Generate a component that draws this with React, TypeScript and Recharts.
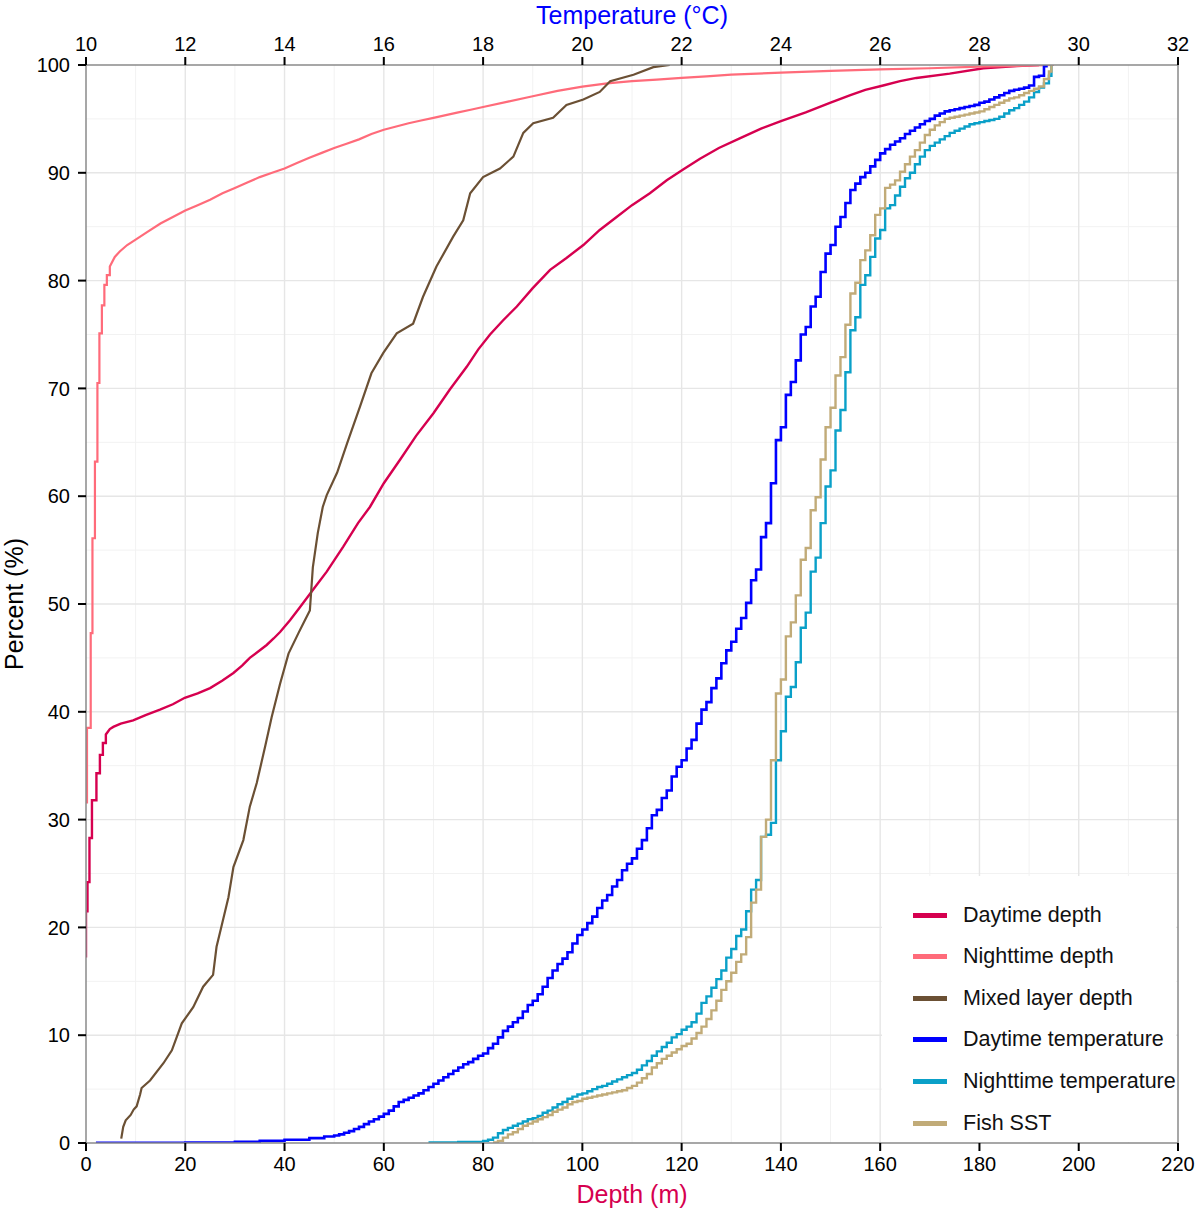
import React from "react";
import {
  LineChart,
  Line,
  XAxis,
  YAxis,
  CartesianGrid,
  ReferenceLine,
} from "recharts";

// axis ticks
const DEPTH_TICKS = [0, 20, 40, 60, 80, 100, 120, 140, 160, 180, 200, 220];
const TEMP_TICKS = [10, 12, 14, 16, 18, 20, 22, 24, 26, 28, 30, 32];
const PCT_TICKS = [0, 10, 20, 30, 40, 50, 60, 70, 80, 90, 100];
const DEPTH_MINOR = [10, 30, 50, 70, 90, 110, 130, 150, 170, 190, 210];
const DEPTH_MAJOR = [20, 40, 60, 80, 100, 120, 140, 160, 180, 200];
const PCT_MINOR = [5, 15, 25, 35, 45, 55, 65, 75, 85, 95];
const PCT_MAJOR = [10, 20, 30, 40, 50, 60, 70, 80, 90];

// cumulative percent, [depth m, %]
const dayDepth = [
  [0, 17.2], [0, 21.5], [0.3, 21.5], [0.3, 24.2], [0.7, 24.2], [0.7, 28.3],
  [1.2, 28.3], [1.2, 31.8], [2.1, 31.8], [2.1, 34.3], [2.8, 34.3], [2.8, 36.0],
  [3.4, 36.0], [3.4, 37.1], [4.0, 37.1], [4.0, 37.9], [4.8, 38.4], [5.5, 38.6],
  [7, 38.9], [9.5, 39.2], [12, 39.7], [14.9, 40.2], [17.5, 40.7], [19.9, 41.3],
  [22.5, 41.7], [25, 42.2], [27.5, 42.9], [29.7, 43.6], [31.5, 44.3], [33, 45.0],
  [34.7, 45.6], [36.4, 46.2], [37.8, 46.8], [39.1, 47.4], [41.1, 48.5], [43.1, 49.7],
  [45.7, 51.3], [48.5, 53.0], [51.8, 55.3], [54.8, 57.5], [57.2, 59.0], [60, 61.2],
  [63.3, 63.4], [66.5, 65.6], [70, 67.7], [73.3, 69.9], [76.7, 72.0], [79, 73.6],
  [81.4, 75.0], [84, 76.3], [86.8, 77.6], [90, 79.3], [93.5, 81.0], [96.8, 82.1],
  [100.2, 83.3], [103.5, 84.7], [106.9, 85.9], [110, 87.0], [113.6, 88.1],
  [117, 89.3], [120.3, 90.3], [123.7, 91.3], [127.5, 92.3], [131.7, 93.2],
  [136, 94.1], [140, 94.8], [145, 95.6], [150, 96.5], [154, 97.2], [157, 97.7],
  [160.6, 98.1], [164, 98.5], [167.3, 98.8], [174, 99.2], [180.8, 99.7],
  [187.5, 99.9], [192, 100],
];

const nightDepth = [
  [0.2, 31.5], [0.2, 38.5], [0.95, 38.5], [0.95, 47.3], [1.3, 47.3], [1.3, 56.1],
  [1.8, 56.1], [1.8, 63.2], [2.3, 63.2], [2.3, 70.5], [2.7, 70.5], [2.7, 75.1],
  [3.2, 75.1], [3.2, 77.7], [3.7, 77.7], [3.7, 79.6], [4.2, 79.6], [4.2, 80.5],
  [4.8, 80.5], [4.8, 81.3], [5.8, 82.2], [6.8, 82.7], [8.3, 83.3], [10, 83.8],
  [12.3, 84.5], [15, 85.3], [17.5, 85.9], [20, 86.5], [22.5, 87.0], [25, 87.5],
  [27.5, 88.1], [30, 88.6], [32.5, 89.1], [35, 89.6], [37.5, 90.0], [40, 90.4],
  [42.5, 90.9], [45, 91.4], [47.5, 91.85], [50, 92.3], [52.5, 92.7], [55, 93.1],
  [57.5, 93.6], [60, 94.0], [62.5, 94.3], [65, 94.6], [67.5, 94.85], [70, 95.1],
  [72.5, 95.35], [75, 95.6], [77.5, 95.85], [80, 96.1], [85, 96.6], [90, 97.1],
  [95, 97.6], [100, 98.0], [105, 98.3], [110, 98.5], [115, 98.65], [120, 98.8],
  [125, 98.95], [130, 99.1], [140, 99.3], [150, 99.45], [160, 99.6], [170, 99.7],
  [180, 99.85], [195, 100],
];

const mixedLayer = [
  [7.1, 0.4], [7.5, 1.5], [8, 2.1], [9, 2.6], [9.6, 3.1], [10.2, 3.4],
  [10.9, 4.5], [11.2, 5.1], [12.9, 5.8], [15.6, 7.4], [17.3, 8.6], [19.3, 11.1],
  [21.6, 12.6], [23.6, 14.5], [25.6, 15.6], [26.3, 18.2], [27.3, 20.1], [28.7, 22.8],
  [29.7, 25.6], [31.7, 28.1], [33, 31.2], [34.4, 33.4], [36.1, 36.8], [37.4, 39.5],
  [39.1, 42.6], [40.8, 45.4], [42.8, 47.3], [44.1, 48.5], [45.1, 49.4], [45.7, 53.4],
  [46.7, 56.6], [47.7, 59.0], [48.5, 60.1], [50.6, 62.2], [52.6, 64.9], [55.2, 68.3],
  [57.5, 71.4], [59.9, 73.3], [62.6, 75.1], [65.9, 76.0], [67.9, 78.5], [70.6, 81.3],
  [74.0, 84.1], [76.0, 85.6], [77.4, 88.1], [80.0, 89.6], [83.4, 90.4], [86.1, 91.5],
  [88.1, 93.7], [90.1, 94.6], [94.1, 95.1], [96.8, 96.3], [100.2, 96.8], [103.5, 97.5],
  [105.6, 98.5], [110.3, 99.1], [114.3, 99.8], [117.6, 100],
];

// cumulative percent, [temperature °C, %]
const dayTemp = [
  [10.2, 0.02], [11, 0.03], [12, 0.05], [13, 0.12], [13.5, 0.2], [14, 0.3],
  [14.5, 0.45], [14.8, 0.6], [15, 0.7], [15.1, 0.8], [15.2, 0.95], [15.3, 1.1],
  [15.4, 1.3], [15.5, 1.5], [15.6, 1.75], [15.7, 2.0], [15.8, 2.2], [15.9, 2.45],
  [16.0, 2.7], [16.1, 3.0], [16.2, 3.4], [16.3, 3.8], [16.4, 4.0], [16.5, 4.2],
  [16.6, 4.4], [16.7, 4.6], [16.8, 4.9], [16.9, 5.2], [17.0, 5.5], [17.1, 5.8],
  [17.2, 6.1], [17.3, 6.4], [17.4, 6.7], [17.5, 7.0], [17.6, 7.3], [17.7, 7.5],
  [17.8, 7.8], [17.9, 8.1], [18.0, 8.3], [18.1, 8.8], [18.2, 9.2], [18.3, 9.8],
  [18.4, 10.4], [18.5, 10.8], [18.6, 11.2], [18.7, 11.6], [18.8, 12.2], [18.9, 12.8],
  [19.0, 13.2], [19.1, 13.8], [19.2, 14.5], [19.3, 15.3], [19.4, 16.0], [19.5, 16.6],
  [19.6, 17.1], [19.7, 17.7], [19.8, 18.5], [19.9, 19.3], [20.0, 19.8], [20.1, 20.4],
  [20.2, 21.0], [20.3, 21.8], [20.4, 22.5], [20.5, 23.0], [20.6, 23.8], [20.7, 24.4],
  [20.8, 25.3], [20.9, 25.9], [21.0, 26.4], [21.1, 27.3], [21.2, 28.1], [21.3, 29.2],
  [21.4, 30.4], [21.5, 30.9], [21.6, 32.0], [21.7, 32.7], [21.8, 34.0], [21.9, 34.9],
  [22.0, 35.5], [22.1, 36.6], [22.2, 37.4], [22.3, 38.9], [22.4, 40.2], [22.5, 40.9],
  [22.6, 42.2], [22.7, 43.1], [22.8, 44.5], [22.9, 45.7], [23.0, 46.5], [23.1, 47.7],
  [23.2, 48.7], [23.3, 50.1], [23.4, 52.2], [23.5, 53.2], [23.6, 56.2], [23.7, 57.5],
  [23.8, 61.2], [23.9, 65.2], [24.0, 66.4], [24.1, 69.4], [24.2, 70.6], [24.3, 72.6],
  [24.4, 75.0], [24.5, 75.7], [24.6, 77.6], [24.7, 78.5], [24.8, 80.8], [24.9, 82.5],
  [25.0, 83.3], [25.1, 85.0], [25.2, 85.9], [25.3, 87.2], [25.4, 88.4], [25.5, 89.0],
  [25.6, 89.6], [25.7, 90.0], [25.8, 90.6], [25.9, 91.2], [26.0, 91.8], [26.1, 92.2],
  [26.2, 92.6], [26.3, 92.9], [26.4, 93.2], [26.5, 93.6], [26.6, 93.9], [26.7, 94.2],
  [26.8, 94.5], [26.9, 94.8], [27.0, 95.0], [27.1, 95.3], [27.2, 95.5], [27.3, 95.7],
  [27.4, 95.8], [27.5, 95.9], [27.6, 96.0], [27.7, 96.1], [27.8, 96.2], [27.9, 96.3],
  [28.0, 96.5], [28.1, 96.6], [28.2, 96.8], [28.3, 97.0], [28.4, 97.2], [28.5, 97.4],
  [28.6, 97.6], [28.7, 97.7], [28.8, 97.8], [28.9, 97.9], [29.0, 98.1], [29.1, 98.9],
  [29.2, 99.0], [29.3, 99.9], [29.35, 100],
];

const nightTemp = [
  [16.9, 0.05], [17.5, 0.1], [18.0, 0.2], [18.1, 0.3], [18.2, 0.5], [18.3, 0.9],
  [18.4, 1.2], [18.5, 1.4], [18.6, 1.6], [18.7, 1.8], [18.8, 2.0], [18.9, 2.2],
  [19.0, 2.3], [19.1, 2.5], [19.2, 2.8], [19.3, 3.0], [19.4, 3.3], [19.5, 3.6],
  [19.6, 3.8], [19.7, 4.1], [19.8, 4.3], [19.9, 4.5], [20.0, 4.6], [20.1, 4.8],
  [20.2, 5.0], [20.3, 5.2], [20.4, 5.3], [20.5, 5.5], [20.6, 5.7], [20.7, 5.9],
  [20.8, 6.1], [20.9, 6.3], [21.0, 6.5], [21.1, 6.8], [21.2, 7.2], [21.3, 7.6],
  [21.4, 8.1], [21.5, 8.5], [21.6, 8.9], [21.7, 9.3], [21.8, 9.8], [21.9, 10.1],
  [22.0, 10.5], [22.1, 10.8], [22.2, 11.2], [22.3, 12.0], [22.4, 13.0], [22.5, 13.6],
  [22.6, 14.4], [22.7, 15.2], [22.8, 16.0], [22.9, 17.2], [23.0, 18.0], [23.1, 19.2],
  [23.2, 19.8], [23.3, 21.5], [23.4, 23.5], [23.5, 24.4], [23.6, 28.4], [23.7, 28.6],
  [23.8, 29.7], [23.9, 35.5], [24.0, 38.2], [24.1, 41.4], [24.2, 42.3], [24.3, 44.6],
  [24.4, 47.8], [24.5, 49.2], [24.6, 53.0], [24.7, 54.3], [24.8, 57.5], [24.9, 60.9],
  [25.0, 62.4], [25.1, 66.1], [25.2, 68.0], [25.3, 71.5], [25.4, 75.4], [25.5, 76.6],
  [25.6, 79.6], [25.7, 80.5], [25.8, 82.2], [25.9, 83.9], [26.0, 84.7], [26.1, 86.7],
  [26.2, 87.0], [26.3, 87.9], [26.4, 88.7], [26.5, 89.5], [26.6, 90.0], [26.7, 90.8],
  [26.8, 91.5], [26.9, 92.1], [27.0, 92.5], [27.1, 92.8], [27.2, 93.1], [27.3, 93.4],
  [27.4, 93.7], [27.5, 93.9], [27.6, 94.1], [27.7, 94.3], [27.8, 94.5], [27.9, 94.6],
  [28.0, 94.7], [28.1, 94.8], [28.2, 94.9], [28.3, 95.0], [28.4, 95.2], [28.5, 95.5],
  [28.6, 95.8], [28.7, 96.0], [28.8, 96.3], [28.9, 96.6], [29.0, 97.0], [29.1, 97.5],
  [29.2, 97.9], [29.3, 98.3], [29.4, 99.0], [29.45, 100],
];

const fishSst = [
  [18.2, 0.05], [18.3, 0.2], [18.4, 0.5], [18.5, 0.8], [18.6, 1.0], [18.7, 1.3],
  [18.8, 1.6], [18.9, 1.8], [19.0, 2.0], [19.1, 2.2], [19.2, 2.4], [19.3, 2.6],
  [19.4, 2.9], [19.5, 3.1], [19.6, 3.3], [19.7, 3.6], [19.8, 3.8], [19.9, 3.9],
  [20.0, 4.1], [20.1, 4.2], [20.2, 4.3], [20.3, 4.4], [20.4, 4.5], [20.5, 4.6],
  [20.6, 4.7], [20.7, 4.8], [20.8, 4.9], [20.9, 5.1], [21.0, 5.3], [21.1, 5.6],
  [21.2, 6.0], [21.3, 6.4], [21.4, 7.0], [21.5, 7.4], [21.6, 7.8], [21.7, 8.1],
  [21.8, 8.4], [21.9, 8.7], [22.0, 9.0], [22.1, 9.2], [22.2, 9.7], [22.3, 10.2],
  [22.4, 10.8], [22.5, 11.5], [22.6, 12.3], [22.7, 13.2], [22.8, 14.2], [22.9, 15.0],
  [23.0, 15.8], [23.1, 16.8], [23.2, 17.5], [23.3, 19.1], [23.4, 22.3], [23.5, 23.5],
  [23.6, 28.4], [23.7, 30.0], [23.8, 35.5], [23.9, 41.7], [24.0, 43.0], [24.1, 47.0],
  [24.2, 48.3], [24.3, 50.8], [24.4, 54.1], [24.5, 55.2], [24.6, 58.7], [24.7, 59.9],
  [24.8, 63.4], [24.9, 66.4], [25.0, 68.2], [25.1, 71.2], [25.2, 72.9], [25.3, 75.9],
  [25.4, 78.8], [25.5, 79.8], [25.6, 81.9], [25.7, 82.8], [25.8, 84.2], [25.9, 86.1],
  [26.0, 86.7], [26.1, 88.6], [26.2, 88.9], [26.3, 89.3], [26.4, 90.1], [26.5, 90.8],
  [26.6, 91.5], [26.7, 92.1], [26.8, 92.8], [26.9, 93.5], [27.0, 94.0], [27.1, 94.4],
  [27.2, 94.7], [27.3, 95.0], [27.4, 95.1], [27.5, 95.2], [27.6, 95.3], [27.7, 95.4],
  [27.8, 95.5], [27.9, 95.6], [28.0, 95.7], [28.1, 95.9], [28.2, 96.1], [28.3, 96.3],
  [28.4, 96.5], [28.5, 96.7], [28.6, 96.9], [28.7, 97.0], [28.8, 97.2], [28.9, 97.4],
  [29.0, 97.6], [29.1, 97.8], [29.2, 98.0], [29.3, 98.7], [29.4, 99.4], [29.45, 100],
];

const toPoints = (rows: number[][]) => rows.map(([x, y]) => ({ x, y }));

const SERIES = [
  { name: "Daytime depth", rows: dayDepth, color: "#d6004f", axis: "depth", type: "linear", width: 2.4 },
  { name: "Nighttime depth", rows: nightDepth, color: "#ff6b7a", axis: "depth", type: "linear", width: 2.2 },
  { name: "Mixed layer depth", rows: mixedLayer, color: "#6b5034", axis: "depth", type: "linear", width: 2.2 },
  { name: "Daytime temperature", rows: dayTemp, color: "#0000ff", axis: "temp", type: "stepAfter", width: 2.6 },
  { name: "Nighttime temperature", rows: nightTemp, color: "#0aa0c8", axis: "temp", type: "stepAfter", width: 2.4 },
  { name: "Fish SST", rows: fishSst, color: "#c1ab78", axis: "temp", type: "stepAfter", width: 2.4 },
];

const FONT = '"Liberation Sans", Arial, Helvetica, sans-serif';
const tickStyle = { fill: "#000", fontSize: 20, fontFamily: FONT };
const tickLine = { stroke: "#000", strokeWidth: 2 };
const axisLine = { stroke: "#8a8a8a", strokeWidth: 1.5 };

// grid positions come from the plot offset and the axis domains
const vGen = (values: number[]) => ({ offset }: any) =>
  values.map((v) => offset.left + (v / 220) * offset.width);
const hGen = (values: number[]) => ({ offset }: any) =>
  values.map((v) => offset.top + (1 - v / 100) * offset.height);

function LegendBox() {
  return (
    <div
      style={{
        position: "absolute",
        left: 882,
        top: 876,
        width: 294,
        height: 266,
        background: "#fff",
        fontFamily: FONT,
        fontSize: 21.5,
        color: "#111",
      }}
    >
      {SERIES.map((s, i) => (
        <div
          key={s.name}
          style={{
            position: "absolute",
            left: 0,
            top: 27 + i * 41.6,
            height: 24,
            display: "flex",
            alignItems: "center",
            whiteSpace: "nowrap",
          }}
        >
          <span
            style={{
              display: "inline-block",
              marginLeft: 31,
              width: 34,
              height: 5,
              background: s.color,
            }}
          />
          <span style={{ marginLeft: 16 }}>{s.name}</span>
        </div>
      ))}
    </div>
  );
}

export default function App() {
  return (
    <div style={{ position: "absolute", left: 0, top: 0, width: 1200, height: 1213, background: "#fff" }}>
      <LineChart
        width={1200}
        height={1213}
        margin={{ top: 0, right: 22, bottom: 0, left: 0 }}
        style={{ fontFamily: FONT }}
      >
        <CartesianGrid
          xAxisId="depth"
          stroke="#f2f2f2"
          strokeWidth={1}
          verticalCoordinatesGenerator={vGen(DEPTH_MINOR)}
          horizontalCoordinatesGenerator={hGen(PCT_MINOR)}
        />
        <CartesianGrid
          xAxisId="depth"
          stroke="#e6e6e6"
          strokeWidth={1.4}
          verticalCoordinatesGenerator={vGen(DEPTH_MAJOR)}
          horizontalCoordinatesGenerator={hGen(PCT_MAJOR)}
        />
        <XAxis
          xAxisId="depth"
          orientation="bottom"
          type="number"
          dataKey="x"
          domain={[0, 220]}
          ticks={DEPTH_TICKS}
          interval={0}
          allowDataOverflow
          height={70}
          tickSize={8}
          tickMargin={6}
          tick={tickStyle}
          tickLine={tickLine}
          axisLine={axisLine}
          label={{ value: "Depth (m)", position: "insideBottom", offset: 10, fill: "#d6004f", fontSize: 25, fontFamily: FONT }}
        />
        <XAxis
          xAxisId="temp"
          orientation="top"
          type="number"
          dataKey="x"
          domain={[10, 32]}
          ticks={TEMP_TICKS}
          interval={0}
          allowDataOverflow
          height={65}
          tickSize={8}
          tickMargin={6}
          tick={tickStyle}
          tickLine={tickLine}
          axisLine={axisLine}
          label={{ value: "Temperature (°C)", position: "insideTop", offset: 6, fill: "#0000ff", fontSize: 25, fontFamily: FONT }}
        />
        <YAxis
          type="number"
          domain={[0, 100]}
          ticks={PCT_TICKS}
          interval={0}
          allowDataOverflow
          width={86}
          tickSize={8}
          tickMargin={8}
          tick={tickStyle}
          tickLine={tickLine}
          axisLine={axisLine}
          label={{
            value: "Percent (%)",
            angle: -90,
            position: "insideLeft",
            offset: 14,
            fill: "#000",
            fontSize: 25,
            fontFamily: FONT,
            style: { textAnchor: "middle" },
          }}
        />
        <ReferenceLine xAxisId="depth" x={220} stroke="#8a8a8a" strokeWidth={1.5} />
        {SERIES.map((s) => (
          <Line
            key={s.name}
            xAxisId={s.axis}
            data={toPoints(s.rows)}
            dataKey="y"
            name={s.name}
            type={s.type as any}
            stroke={s.color}
            strokeWidth={s.width}
            dot={false}
            activeDot={false}
            isAnimationActive={false}
          />
        ))}
      </LineChart>
      <LegendBox />
    </div>
  );
}
